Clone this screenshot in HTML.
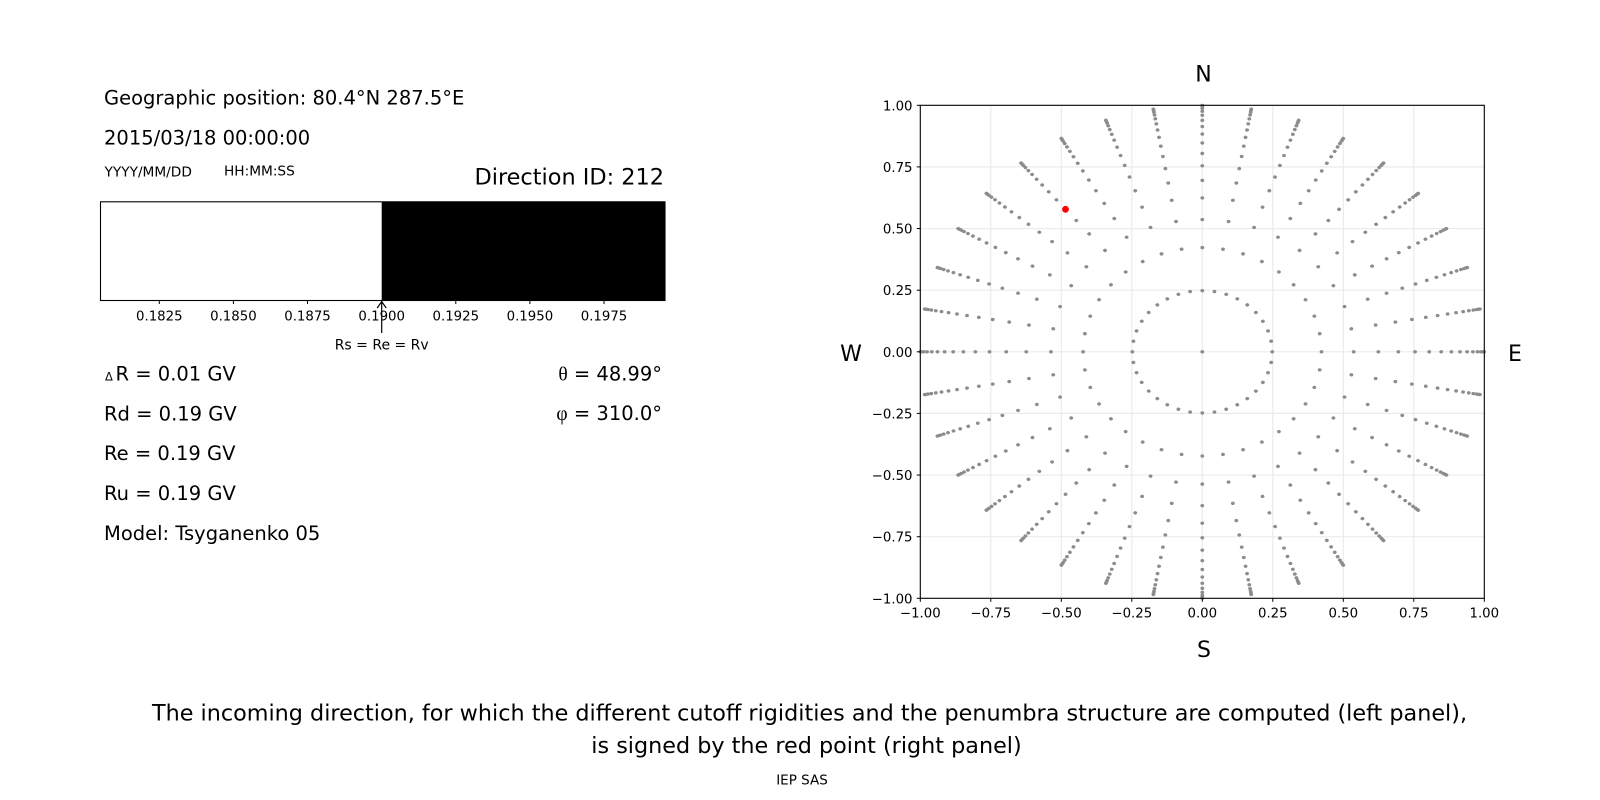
<!DOCTYPE html>
<html>
<head>
<meta charset="utf-8">
<style>
  html, body { margin: 0; padding: 0; background: #ffffff; }
  svg { display: block; }
  text { font-family: "DejaVu Sans", "Liberation Sans", sans-serif; fill: #000; }
</style>
</head>
<body>
<svg width="1600" height="800" viewBox="0 0 1600 800" xmlns="http://www.w3.org/2000/svg">
  <rect x="0" y="0" width="1600" height="800" fill="#ffffff"/>

  <!-- ================= LEFT PANEL ================= -->
  <text x="104" y="104.3" font-size="19.5">Geographic position: 80.4°N 287.5°E</text>
  <text x="104" y="144.3" font-size="19.5">2015/03/18 00:00:00</text>
  <text x="104.5" y="176.7" font-size="13.7">YYYY/MM/DD</text>
  <text x="224" y="175.5" font-size="13.7">HH:MM:SS</text>
  <text x="664" y="184.3" font-size="22.4" text-anchor="end">Direction ID: 212</text>

  <!-- bar -->
  <rect x="381.7" y="201.8" width="283.3" height="98.7" fill="#000"/>
  <rect x="100.5" y="201.8" width="564.5" height="98.7" fill="none" stroke="#000" stroke-width="1.1"/>
  <g stroke="#000" stroke-width="1">
    <line x1="159.3" y1="300.5" x2="159.3" y2="304"/>
    <line x1="233.4" y1="300.5" x2="233.4" y2="304"/>
    <line x1="307.5" y1="300.5" x2="307.5" y2="304"/>
    <line x1="381.7" y1="300.5" x2="381.7" y2="304"/>
    <line x1="455.8" y1="300.5" x2="455.8" y2="304"/>
    <line x1="529.9" y1="300.5" x2="529.9" y2="304"/>
    <line x1="604.0" y1="300.5" x2="604.0" y2="304"/>
  </g>
  <g font-size="13.3" text-anchor="middle">
    <text x="159.3" y="320.7">0.1825</text>
    <text x="233.4" y="320.7">0.1850</text>
    <text x="307.5" y="320.7">0.1875</text>
    <text x="381.7" y="320.7">0.1900</text>
    <text x="455.8" y="320.7">0.1925</text>
    <text x="529.9" y="320.7">0.1950</text>
    <text x="604.0" y="320.7">0.1975</text>
  </g>
  <!-- arrow -->
  <line x1="381.7" y1="333" x2="381.7" y2="301.5" stroke="#000" stroke-width="1.2"/>
  <polyline points="377.2,308 381.7,301.5 386.2,308" fill="none" stroke="#000" stroke-width="1.2"/>
  <text x="381.7" y="349.5" font-size="14" text-anchor="middle">Rs = Re = Rv</text>

  <!-- stats -->
  <text x="105" y="380.5" font-size="11.5">Δ</text>
  <text x="115.5" y="380.5" font-size="19.5">R = 0.01 GV</text>
  <text x="104" y="420.3" font-size="19.5">Rd = 0.19 GV</text>
  <text x="104" y="460" font-size="19.5">Re = 0.19 GV</text>
  <text x="104" y="500" font-size="19.5">Ru = 0.19 GV</text>
  <text x="104" y="540" font-size="19.5">Model: Tsyganenko 05</text>

  <text x="662" y="380.5" font-size="19.5" text-anchor="end"><tspan font-family="Liberation Serif, DejaVu Serif, serif">θ</tspan> = 48.99°</text>
  <text x="662" y="420" font-size="19.5" text-anchor="end"><tspan font-family="Liberation Serif, DejaVu Serif, serif">φ</tspan> = 310.0°</text>

  <!-- ================= RIGHT PANEL ================= -->
  <!-- grid -->
  <g stroke="#ebebeb" stroke-width="1.2">
    <line x1="990.8" y1="105.3" x2="990.8" y2="598.3"/>
    <line x1="1061.3" y1="105.3" x2="1061.3" y2="598.3"/>
    <line x1="1131.8" y1="105.3" x2="1131.8" y2="598.3"/>
    <line x1="1202.3" y1="105.3" x2="1202.3" y2="598.3"/>
    <line x1="1272.8" y1="105.3" x2="1272.8" y2="598.3"/>
    <line x1="1343.3" y1="105.3" x2="1343.3" y2="598.3"/>
    <line x1="1413.8" y1="105.3" x2="1413.8" y2="598.3"/>
    <line x1="920.3" y1="166.9" x2="1484.3" y2="166.9"/>
    <line x1="920.3" y1="228.55" x2="1484.3" y2="228.55"/>
    <line x1="920.3" y1="290.2" x2="1484.3" y2="290.2"/>
    <line x1="920.3" y1="351.8" x2="1484.3" y2="351.8"/>
    <line x1="920.3" y1="413.4" x2="1484.3" y2="413.4"/>
    <line x1="920.3" y1="475.05" x2="1484.3" y2="475.05"/>
    <line x1="920.3" y1="536.7" x2="1484.3" y2="536.7"/>
  </g>

  <!-- dots -->
  <defs>
    <g id="ray">
      <circle cx="0" cy="0.24804" r="0.0068"/>
      <circle cx="0" cy="0.42274" r="0.0068"/>
      <circle cx="0" cy="0.53674" r="0.0068"/>
      <circle cx="0" cy="0.62422" r="0.0068"/>
      <circle cx="0" cy="0.69527" r="0.0068"/>
      <circle cx="0" cy="0.75455" r="0.0068"/>
      <circle cx="0" cy="0.80465" r="0.0068"/>
      <circle cx="0" cy="0.84722" r="0.0068"/>
      <circle cx="0" cy="0.88333" r="0.0068"/>
      <circle cx="0" cy="0.91376" r="0.0068"/>
      <circle cx="0" cy="0.93906" r="0.0068"/>
      <circle cx="0" cy="0.95964" r="0.0068"/>
      <circle cx="0" cy="0.97578" r="0.0068"/>
      <circle cx="0" cy="0.98772" r="0.0068"/>
      <circle cx="0" cy="0.99560" r="0.0068"/>
      <circle cx="0" cy="0.99951" r="0.0068"/>
    </g>
  </defs>
  <g transform="translate(1202.3,351.8) scale(282,-246.5)" fill="#8c8c8c">
    <circle cx="0" cy="0" r="0.0068"/>
    <use href="#ray" transform="rotate(0)"/>
    <use href="#ray" transform="rotate(10)"/>
    <use href="#ray" transform="rotate(20)"/>
    <use href="#ray" transform="rotate(30)"/>
    <use href="#ray" transform="rotate(40)"/>
    <use href="#ray" transform="rotate(50)"/>
    <use href="#ray" transform="rotate(60)"/>
    <use href="#ray" transform="rotate(70)"/>
    <use href="#ray" transform="rotate(80)"/>
    <use href="#ray" transform="rotate(90)"/>
    <use href="#ray" transform="rotate(100)"/>
    <use href="#ray" transform="rotate(110)"/>
    <use href="#ray" transform="rotate(120)"/>
    <use href="#ray" transform="rotate(130)"/>
    <use href="#ray" transform="rotate(140)"/>
    <use href="#ray" transform="rotate(150)"/>
    <use href="#ray" transform="rotate(160)"/>
    <use href="#ray" transform="rotate(170)"/>
    <use href="#ray" transform="rotate(180)"/>
    <use href="#ray" transform="rotate(190)"/>
    <use href="#ray" transform="rotate(200)"/>
    <use href="#ray" transform="rotate(210)"/>
    <use href="#ray" transform="rotate(220)"/>
    <use href="#ray" transform="rotate(230)"/>
    <use href="#ray" transform="rotate(240)"/>
    <use href="#ray" transform="rotate(250)"/>
    <use href="#ray" transform="rotate(260)"/>
    <use href="#ray" transform="rotate(270)"/>
    <use href="#ray" transform="rotate(280)"/>
    <use href="#ray" transform="rotate(290)"/>
    <use href="#ray" transform="rotate(300)"/>
    <use href="#ray" transform="rotate(310)"/>
    <use href="#ray" transform="rotate(320)"/>
    <use href="#ray" transform="rotate(330)"/>
    <use href="#ray" transform="rotate(340)"/>
    <use href="#ray" transform="rotate(350)"/>
  </g>

  <!-- red point -->
  <circle cx="1065.5" cy="209.3" r="3.4" fill="#ff0000"/>

  <!-- spines -->
  <rect x="920.3" y="105.3" width="564" height="493" fill="none" stroke="#000" stroke-width="1.1"/>

  <!-- ticks -->
  <g stroke="#000" stroke-width="1">
    <line x1="920.3" y1="598.3" x2="920.3" y2="601.8"/>
    <line x1="990.8" y1="598.3" x2="990.8" y2="601.8"/>
    <line x1="1061.3" y1="598.3" x2="1061.3" y2="601.8"/>
    <line x1="1131.8" y1="598.3" x2="1131.8" y2="601.8"/>
    <line x1="1202.3" y1="598.3" x2="1202.3" y2="601.8"/>
    <line x1="1272.8" y1="598.3" x2="1272.8" y2="601.8"/>
    <line x1="1343.3" y1="598.3" x2="1343.3" y2="601.8"/>
    <line x1="1413.8" y1="598.3" x2="1413.8" y2="601.8"/>
    <line x1="1484.3" y1="598.3" x2="1484.3" y2="601.8"/>

    <line x1="916.8" y1="105.3" x2="920.3" y2="105.3"/>
    <line x1="916.8" y1="166.9" x2="920.3" y2="166.9"/>
    <line x1="916.8" y1="228.55" x2="920.3" y2="228.55"/>
    <line x1="916.8" y1="290.2" x2="920.3" y2="290.2"/>
    <line x1="916.8" y1="351.8" x2="920.3" y2="351.8"/>
    <line x1="916.8" y1="413.4" x2="920.3" y2="413.4"/>
    <line x1="916.8" y1="475.05" x2="920.3" y2="475.05"/>
    <line x1="916.8" y1="536.7" x2="920.3" y2="536.7"/>
    <line x1="916.8" y1="598.3" x2="920.3" y2="598.3"/>
  </g>

  <g font-size="13.3" text-anchor="middle">
    <text x="920.3" y="617.7">−1.00</text>
    <text x="990.8" y="617.7">−0.75</text>
    <text x="1061.3" y="617.7">−0.50</text>
    <text x="1131.8" y="617.7">−0.25</text>
    <text x="1202.3" y="617.7">0.00</text>
    <text x="1272.8" y="617.7">0.25</text>
    <text x="1343.3" y="617.7">0.50</text>
    <text x="1413.8" y="617.7">0.75</text>
    <text x="1484.3" y="617.7">1.00</text>
  </g>
  <g font-size="13.3" text-anchor="end">
    <text x="912.5" y="110.3">1.00</text>
    <text x="912.5" y="171.9">0.75</text>
    <text x="912.5" y="233.55">0.50</text>
    <text x="912.5" y="295.2">0.25</text>
    <text x="912.5" y="356.8">0.00</text>
    <text x="912.5" y="418.4">−0.25</text>
    <text x="912.5" y="480.05">−0.50</text>
    <text x="912.5" y="541.7">−0.75</text>
    <text x="912.5" y="603.3">−1.00</text>
  </g>

  <!-- compass labels -->
  <g font-size="22" text-anchor="middle">
    <text x="1203.5" y="81.5">N</text>
    <text x="1204" y="657">S</text>
    <text x="851" y="361">W</text>
    <text x="1515" y="361">E</text>
  </g>

  <!-- ================= CAPTION ================= -->
  <g font-size="22.3" text-anchor="middle">
    <text x="809.5" y="720.7">The incoming direction, for which the different cutoff rigidities and the penumbra structure are computed (left panel),</text>
    <text x="806.5" y="753">is signed by the red point (right panel)</text>
  </g>
  <text x="802" y="784.4" font-size="13.5" text-anchor="middle">IEP SAS</text>
</svg>
</body>
</html>
